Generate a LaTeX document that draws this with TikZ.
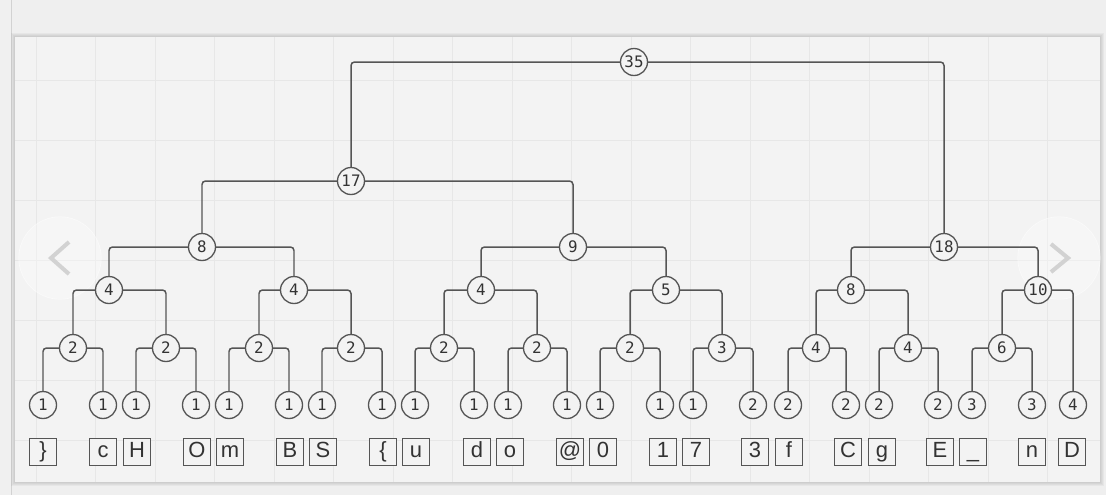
\documentclass[tikz,border=0pt]{standalone}
\usepackage{fontspec}
\setmainfont{Liberation Sans}
\newfontfamily\weightfont{DejaVu Sans Mono}
\usetikzlibrary{positioning}
\definecolor{page}{HTML}{EFEFEF}
\definecolor{panel}{HTML}{F3F3F3}
\definecolor{gridc}{HTML}{E7E7E7}
\definecolor{ink}{HTML}{555555}
\definecolor{glyph}{HTML}{333333}
\definecolor{navc}{HTML}{D2D2D2}
\tikzset{
  wnode/.style={circle,draw=ink,fill=panel,line width=0.75pt,minimum size=0.54cm,inner sep=0pt,
    font=\weightfont\fontsize{9}{10}\selectfont,text=glyph},
  sym/.style={draw=ink,fill=panel,line width=0.7pt,minimum size=0.55cm,inner sep=0pt,
    text height=9pt,text depth=2.6pt,font=\fontsize{12.5}{14}\selectfont,text=glyph},
  link/.style={draw=ink,line width=0.85pt,rounded corners=2pt},
  navbtn/.style={circle,fill=white,fill opacity=0.3,draw=white,draw opacity=0.5,minimum size=1.65cm},
  chev/.style={navc,line width=2.3pt},
}

\begin{document}
\begin{tikzpicture}[x=0.02cm,y=-0.02cm]
  \useasboundingbox (0,0) rectangle (1106,495);
  \fill[page] (0,0) rectangle (1106,495);
  \fill[gray!12] (0,0) rectangle (11,495);
  \draw[gray!35,line width=0.8pt] (11.5,0) -- (11.5,495);

  % panel, soft shadow and grid
  \foreach \s in {4,3,2,1} \fill[black,opacity=0.035] (15-\s,37-\s) rectangle (1100+\s,482+\s);
  \fill[panel] (15,37) rectangle (1100,482);
  \foreach \x in {36,95.5,...,1090} \draw[gridc,line width=0.4pt] (\x,37) -- (\x,482);
  \foreach \y in {80,140,...,480} \draw[gridc,line width=0.4pt] (15,\y) -- (1100,\y);

  % carousel buttons
  \node[navbtn] (navl) at (60,258) {};
  \node[navbtn] (navr) at (1059,258) {};
  \draw[chev] (navl.center) ++(9,-16) -- ++(-18,16) -- ++(18,16);
  \draw[chev] (navr.center) ++(-8,-14) -- ++(17,14) -- ++(-17,14);

  % leaves and their symbols
  \foreach \n/\x/\w/\bx/\t in {1/43/1/43/\},2/103/1/103/c,3/136/1/137/H,4/196/1/197/O,5/229/1/230/m,
      6/289/1/290/B,7/322/1/323/S,8/382/1/383/\{,9/415/1/416/u,10/474/1/477/d,11/508/1/510/o,
      12/567/1/570/@,13/600/1/603/0,14/660/1/663/1,15/693/1/696/7,16/753/2/755/3,17/788/2/789/f,
      18/846/2/848/C,19/879/2/882/g,20/938/2/940/E,21/972/3/973/\_,22/1032/3/1032/n,23/1073/4/1072/D} {
    \node[wnode] (l\n) at (\x,405) {\w};
    \node[sym] (s\n) at (\bx,452) {\t};
  }

  % inner nodes
  \foreach \n/\x/\w in {1/73/2,2/166/2,3/259/2,4/351/2,5/444/2,6/537/2,7/630/2,8/722/3,9/816/4,10/908/4,11/1002/6}
    \node[wnode] (a\n) at (\x,348) {\w};
  \foreach \n/\x/\w in {1/109/4,2/294/4,3/481/4,4/666/5,5/851/8,6/1038/10}
    \node[wnode] (b\n) at (\x,290) {\w};
  \foreach \n/\x/\w in {1/202/8,2/573/9,3/944/18}
    \node[wnode] (c\n) at (\x,247) {\w};
  \node[wnode] (d1) at (351,181) {17};
  \node[wnode] (root) at (634,62) {35};

  % links
  \foreach \p/\c in {a1/l1,a1/l2,a2/l3,a2/l4,a3/l5,a3/l6,a4/l7,a4/l8,a5/l9,a5/l10,a6/l11,a6/l12,
      a7/l13,a7/l14,a8/l15,a8/l16,a9/l17,a9/l18,a10/l19,a10/l20,a11/l21,a11/l22,
      b1/a1,b1/a2,b2/a3,b2/a4,b3/a5,b3/a6,b4/a7,b4/a8,b5/a9,b5/a10,b6/a11,b6/l23,
      c1/b1,c1/b2,c2/b3,c2/b4,c3/b5,c3/b6,d1/c1,d1/c2,root/d1,root/c3}
    \draw[link] (\p) -| (\c);
\end{tikzpicture}
\end{document}
